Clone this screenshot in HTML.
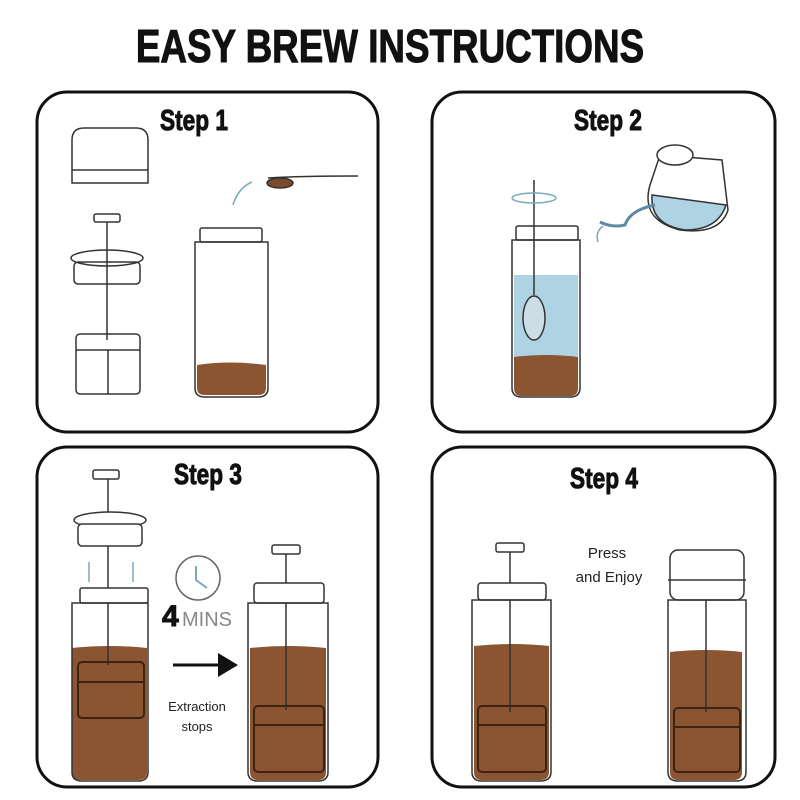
<!DOCTYPE html>
<html><head><style>
body{margin:0;background:#fff;width:800px;height:800px;overflow:hidden}
svg{display:block}
.t{font-family:"Liberation Sans",sans-serif;font-weight:bold;fill:#111;stroke:#111;stroke-width:1}
.s{font-family:"Liberation Sans",sans-serif;fill:#222}
</style></head><body>
<svg width="800" height="800" viewBox="0 0 800 800">
<text class="t" x="390" y="62" font-size="46" text-anchor="middle" transform="translate(390 0) scale(0.8 1) translate(-390 0)" stroke-width="1.5">EASY BREW INSTRUCTIONS</text>
<g fill="none" stroke="#111" stroke-width="3">
<rect x="37" y="92" width="341" height="340" rx="30"/>
<rect x="432" y="92" width="343" height="340" rx="30"/>
<rect x="37" y="447" width="341" height="340" rx="30"/>
<rect x="432" y="447" width="343" height="340" rx="30"/>
</g>
<g class="t" font-size="29" text-anchor="middle">
<text x="194" y="130" transform="translate(194 0) scale(0.78 1) translate(-194 0)">Step 1</text>
<text x="608" y="130" transform="translate(608 0) scale(0.78 1) translate(-608 0)">Step 2</text>
<text x="208" y="484" transform="translate(208 0) scale(0.78 1) translate(-208 0)">Step 3</text>
<text x="604" y="488" transform="translate(604 0) scale(0.78 1) translate(-604 0)">Step 4</text>
</g>
<g stroke="#333" stroke-width="1.5" fill="none">
<path d="M72 183 L72 140 Q72 128 84 128 L136 128 Q148 128 148 140 L148 183 Z" fill="#fff"/>
<line x1="72" y1="170" x2="148" y2="170"/>
<rect x="94" y="214" width="26" height="8" rx="2"/>
<line x1="107" y1="222" x2="107" y2="340"/>
<ellipse cx="107" cy="258" rx="36" ry="8"/>
<rect x="74" y="262" width="66" height="22" rx="4"/>
<rect x="76" y="334" width="64" height="60" rx="4"/>
<line x1="76" y1="350" x2="140" y2="350"/><line x1="108" y1="350" x2="108" y2="394"/>
<rect x="200" y="228" width="62" height="14" rx="2"/>
<path d="M195 242 L268 242 L268 388 Q268 397 258 397 L205 397 Q195 397 195 388 Z"/>
<path d="M268 178 Q300 176 358 176" /><ellipse cx="280" cy="183" rx="13" ry="5" fill="#7a4a2a"/>
<path d="M252 182 Q238 188 233 205" stroke="#7aa9bf"/>
</g>
<path d="M197 365 Q230 360 266 365 L266 388 Q266 395 258 395 L205 395 Q197 395 197 388Z" fill="#8a5530"/>
<path d="M514 275 L578 275 L578 388 Q578 396 570 396 L522 396 Q514 396 514 388Z" fill="#aed3e3"/>
<path d="M514 357 Q546 353 578 357 L578 388 Q578 396 570 396 L522 396 Q514 396 514 388Z" fill="#8a5530"/>
<g stroke="#333" stroke-width="1.5" fill="none">
<rect x="516" y="226" width="62" height="14" rx="2"/>
<path d="M512 240 L580 240 L580 388 Q580 397 570 397 L522 397 Q512 397 512 388Z"/>
<line x1="534" y1="180" x2="534" y2="295"/>
<ellipse cx="534" cy="318" rx="11" ry="22" fill="#ccdde5"/>
<ellipse cx="534" cy="198" rx="22" ry="5" stroke="#7aa9bf"/>
<path d="M650 185 Q640 220 680 230 Q720 235 728 210 L722 160 L660 155 Z" fill="#fff"/>
<path d="M652 195 Q650 225 685 230 Q718 230 726 205 Z" fill="#aed3e3"/>
<ellipse cx="675" cy="155" rx="18" ry="10" fill="#fff"/>
<path d="M655 205 Q630 210 625 225 Q612 228 600 222" stroke="#5d8aa0" stroke-width="3"/>
<path d="M603 226 Q595 232 598 242" stroke="#7aa9bf"/>
</g>
<path d="M72 648 Q110 644 147 648 L147 772 Q147 780 138 780 L80 780 Q72 780 72 772Z" fill="#8a5530"/>
<path d="M250 648 Q288 644 326 648 L326 772 Q326 780 318 780 L258 780 Q250 780 250 772Z" fill="#8a5530"/>
<g stroke="#333" stroke-width="1.5" fill="none">
<rect x="93" y="470" width="26" height="9" rx="2"/>
<line x1="108" y1="479" x2="108" y2="665"/>
<ellipse cx="110" cy="520" rx="36" ry="8" fill="#fff"/>
<rect x="78" y="524" width="64" height="22" rx="4" fill="#fff"/>
<rect x="80" y="588" width="68" height="15" rx="2" fill="#fff"/>
<path d="M72 603 L148 603 L148 772 Q148 781 138 781 L82 781 Q72 781 72 772Z"/>
<rect x="78" y="662" width="66" height="56" rx="4" stroke="#3a2414" stroke-width="2"/>
<line x1="78" y1="682" x2="144" y2="682" stroke="#3a2414" stroke-width="2"/>
<rect x="272" y="545" width="28" height="9" rx="2"/>
<line x1="286" y1="554" x2="286" y2="710"/>
<rect x="254" y="583" width="70" height="20" rx="3" fill="#fff"/>
<path d="M248 603 L328 603 L328 772 Q328 781 318 781 L258 781 Q248 781 248 772Z"/>
<rect x="254" y="706" width="70" height="66" rx="4" stroke="#3a2414" stroke-width="2"/>
<line x1="254" y1="725" x2="324" y2="725" stroke="#3a2414" stroke-width="2"/>
<circle cx="198" cy="578" r="22" stroke="#666"/>
<path d="M196 566 L196 580 L207 588" stroke="#7aa9bf" stroke-width="2"/>
<path d="M89 562 L89 582 M133 562 L133 582" stroke="#7aa9bf"/>
</g>
<text class="t" x="162" y="626" font-size="30">4</text>
<text class="s" x="182" y="626" font-size="20" style="fill:#888">MINS</text>
<line x1="173" y1="665" x2="222" y2="665" stroke="#111" stroke-width="3"/>
<polygon points="218,653 238,665 218,677" fill="#111"/>
<text class="s" x="197" y="711" font-size="13" text-anchor="middle">Extraction</text>
<text class="s" x="197" y="731" font-size="13" text-anchor="middle">stops</text>
<path d="M474 646 Q512 642 549 646 L549 772 Q549 780 540 780 L482 780 Q474 780 474 772Z" fill="#8a5530"/>
<path d="M670 652 Q706 648 742 652 L742 772 Q742 780 734 780 L678 780 Q670 780 670 772Z" fill="#8a5530"/>
<g stroke="#333" stroke-width="1.5" fill="none">
<rect x="496" y="543" width="28" height="9" rx="2"/>
<line x1="510" y1="552" x2="510" y2="712"/>
<rect x="478" y="583" width="68" height="17" rx="3" fill="#fff"/>
<path d="M472 600 L551 600 L551 772 Q551 781 540 781 L482 781 Q472 781 472 772Z"/>
<rect x="478" y="706" width="68" height="66" rx="4" stroke="#3a2414" stroke-width="2"/>
<line x1="478" y1="725" x2="546" y2="725" stroke="#3a2414" stroke-width="2"/>
<rect x="670" y="550" width="74" height="50" rx="8" fill="#fff"/>
<line x1="668" y1="580" x2="746" y2="580"/>
<path d="M668 600 L746 600 L746 772 Q746 781 736 781 L678 781 Q668 781 668 772Z"/>
<line x1="706" y1="600" x2="706" y2="712"/>
<rect x="674" y="708" width="66" height="64" rx="4" stroke="#3a2414" stroke-width="2"/>
<line x1="674" y1="727" x2="740" y2="727" stroke="#3a2414" stroke-width="2"/>
</g>
<text class="s" x="607" y="558" font-size="15" text-anchor="middle">Press</text>
<text class="s" x="609" y="582" font-size="15" text-anchor="middle">and Enjoy</text>
</svg>
</body></html>
